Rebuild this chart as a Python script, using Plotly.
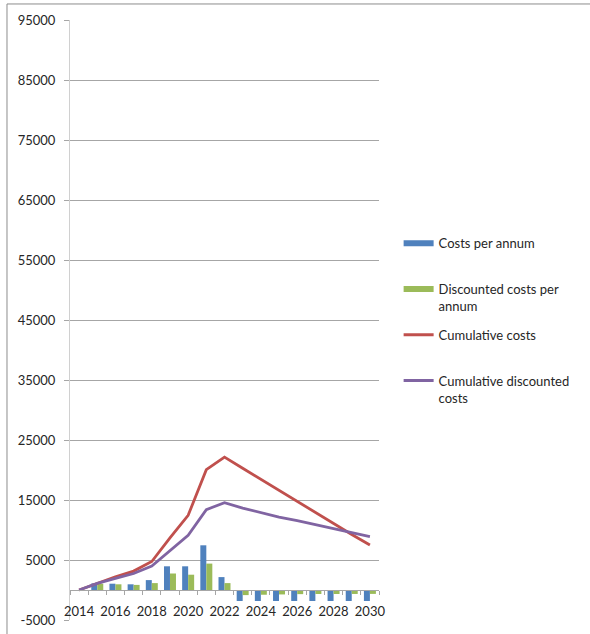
import plotly.graph_objects as go

years = list(range(2014, 2031))
costs_per_annum = [0, 1100, 1050, 950, 1650, 3950, 3950, 7450, 2150,
                   -1830, -1830, -1830, -1830, -1830, -1830, -1830, -1830]
discounted_per_annum = [0, 1050, 950, 850, 1150, 2750, 2550, 4400, 1150,
                        -850, -790, -740, -690, -670, -670, -660, -650]
cumulative_costs = [0, 1150, 2200, 3150, 4750, 8700, 12450, 20050, 22150,
                    20300, 18450, 16600, 14750, 12900, 11050, 9250, 7500]
cumulative_discounted = [0, 1100, 1950, 2750, 4000, 6500, 9100, 13400, 14550,
                         13650, 12850, 12150, 11550, 10900, 10200, 9550, 8880]
y_ticks = list(range(-5000, 95001, 10000))
y_labels = [str(v) for v in y_ticks]
x_ticks = list(range(2014, 2031, 2))
x_labels = [str(y) for y in x_ticks]

FONT = "Lato, 'Open Sans', sans-serif"
TXT = "#262626"
BLUE, GREEN, RED, PURPLE = "#4F81BD", "#9BBB59", "#C0504D", "#8064A2"

fig = go.Figure()
fig.add_trace(go.Bar(x=years, y=costs_per_annum, name="Costs per annum",
                     marker=dict(color=BLUE, line=dict(width=0)),
                     legendgroup="a", showlegend=False))
fig.add_trace(go.Bar(x=years, y=discounted_per_annum,
                     name="Discounted costs per annum",
                     marker=dict(color=GREEN, line=dict(width=0)),
                     legendgroup="b", showlegend=False))
fig.add_trace(go.Scatter(x=years, y=cumulative_costs, mode="lines",
                         name="Cumulative costs",
                         line=dict(color=RED, width=2.8),
                         legendgroup="c", showlegend=False))
fig.add_trace(go.Scatter(x=years, y=cumulative_discounted, mode="lines",
                         name="Cumulative discounted costs",
                         line=dict(color=PURPLE, width=2.8),
                         legendgroup="d", showlegend=False))

# legend entries (Excel-style swatches)
legend_items = [("Costs per annum<br> ", BLUE, 6, "a"),
                ("Discounted costs per<br>annum", GREEN, 6, "b"),
                ("Cumulative costs<br> ", RED, 3, "c"),
                ("Cumulative discounted<br>costs", PURPLE, 3, "d")]
for name, col, w, grp in legend_items:
    fig.add_trace(go.Scatter(x=[None], y=[None], mode="lines", name=name,
                             line=dict(color=col, width=w), legendgroup=grp,
                             showlegend=True, hoverinfo="skip"))

fig.update_layout(
    width=590, height=634,
    margin=dict(l=70, r=211, t=20, b=14, autoexpand=False),
    paper_bgcolor="white", plot_bgcolor="white",
    font=dict(family=FONT, size=13, color=TXT),
    barmode="group", bargap=0.34, bargroupgap=0,
    showlegend=True,
    legend=dict(x=1.0635, y=0.653, xanchor="left", yanchor="top",
                font=dict(family=FONT, size=13, color=TXT),
                tracegroupgap=9, itemwidth=30, valign="top",
                bgcolor="rgba(0,0,0,0)"),
    xaxis=dict(
        range=[2013.5, 2030.5],
        anchor="free", position=0.05, automargin=False,
        tickmode="array", tickvals=x_ticks, ticktext=x_labels,
        ticks="", showgrid=False, zeroline=False,
        showline=True, linecolor="#a6a6a6", linewidth=1,
        tickfont=dict(family=FONT, size=13, color=TXT),
        ticklabelstandoff=9,
        minor=dict(tickmode="array",
                   tickvals=[2013.5 + i for i in range(18)],
                   ticks="outside", ticklen=4, tickcolor="#a6a6a6", showgrid=False),
    ),
    yaxis=dict(
        range=[-5000, 95000], automargin=False,
        tickmode="array", tickvals=y_ticks, ticktext=y_labels,
        ticks="outside", ticklen=5, tickcolor="#a6a6a6",
        showgrid=True, gridcolor="#a6a6a6", gridwidth=1,
        zeroline=False,
        showline=True, linecolor="#d0d0d0", linewidth=1,
        tickfont=dict(family=FONT, size=13, color=TXT),
        ticklabelstandoff=6,
    ),
    shapes=[dict(type="rect", xref="paper", yref="paper",
                 x0=-0.2039, x1=2.0, y0=-1.0, y1=1.0267,
                 line=dict(color="#8c8c8c", width=1), fillcolor="rgba(0,0,0,0)",
                 layer="below")],
)

fig.write_html("out.html")
